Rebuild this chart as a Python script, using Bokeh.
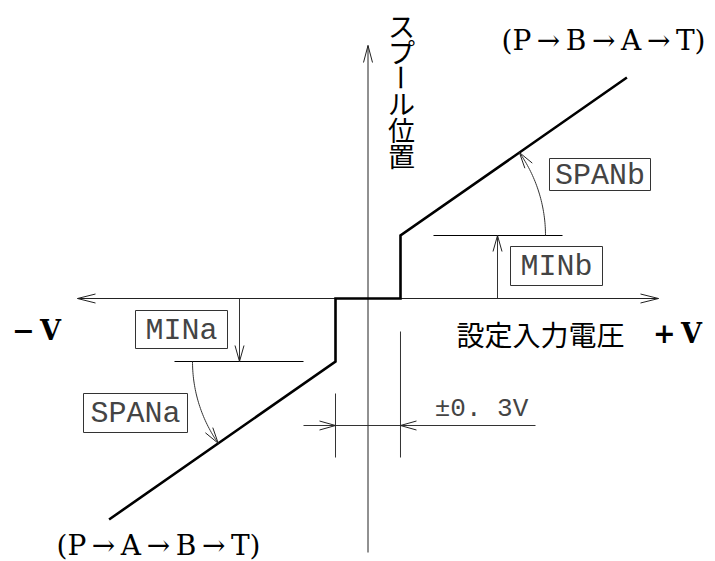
import math
from bokeh.plotting import figure
from bokeh.models import Range1d
from bokeh.embed import file_html
from bokeh.resources import INLINE
from bokeh.core.properties import value

# ---------------- data (diagram values) ----------------
dead_band_v = 0.3          # ±0.3 V dead band
v_end = 2.39               # input voltage at end of drawn characteristic
min_a = -28.5              # MINa  (% of spool stroke)
min_b = 28.5               # MINb
pos_end = 100.0            # full stroke (%)

curve_v = [-v_end, -dead_band_v, -dead_band_v, dead_band_v, dead_band_v, v_end]
curve_pos = [-pos_end, min_a, 0.0, 0.0, min_b, pos_end]

box_labels = ["MINa", "SPANa", "MINb", "SPANb"]
y_axis_label = "スプール位置"
x_axis_label = "設定入力電圧"
dir_labels = ["(P\u2009→\u2009B\u2009→\u2009A\u2009→\u2009T)", "(P\u2009→\u2009A\u2009→\u2009B\u2009→\u2009T)"]
sign_labels = ["−\u2009V", "+\u2009V"]
band_label = "±0. 3V"

# ---------------- layout ----------------
W, H = 715, 561
OX, OY = 367.5, 298.0      # origin in picture pixels
SX, SY = 108.33, 2.21      # px per V, px per %


def X(px):
    return (px - OX) / SX


def Y(py):
    return (OY - py) / SY


def PX(v):
    return OX + v * SX


def PY(p_):
    return OY - p_ * SY


p = figure(width=W, height=H,
           x_range=Range1d(X(0), X(W)), y_range=Range1d(Y(H), Y(0)),
           output_backend="svg", toolbar_location=None, min_border=0,
           x_axis_location=None, y_axis_location=None)
p.grid.visible = False
p.outline_line_color = None
p.background_fill_color = "white"
p.border_fill_color = "white"

AX = "#222222"
THIN = "#333333"

heads_x, heads_y = [], []


def head(tx, ty, dx, dy, L=16.0, h=4.5):
    n = math.hypot(dx, dy)
    dx, dy = dx / n, dy / n
    bx, by = tx - dx * L, ty - dy * L
    nx, ny = -dy, dx
    heads_x.append([X(bx + nx * h), X(tx), X(bx - nx * h)])
    heads_y.append([Y(by + ny * h), Y(ty), Y(by - ny * h)])


# axes
x_ax = (X(77), X(658))
y_ax = (Y(552), Y(45))
p.line(list(x_ax), [0, 0], line_color=AX, line_width=1)
p.line([0, 0], list(y_ax), line_color=AX, line_width=1)
head(PX(x_ax[0]), OY, -1, 0, L=18)
head(PX(x_ax[1]), OY, 1, 0, L=18)
head(OX, PY(y_ax[1]), 0, -1, L=17)

# characteristic
p.line(curve_v, curve_pos, line_color="black", line_width=2.6, line_join="miter")

# MINb
p.line([X(433), X(562)], [min_b, min_b], line_color="black", line_width=1.2)
p.line([X(497), X(497)], [0, min_b], line_color=THIN, line_width=1)
head(497, PY(min_b), 0, -1)
# MINa
p.line([X(174), X(303)], [min_a, min_a], line_color="black", line_width=1.2)
p.line([X(239), X(239)], [0, min_a], line_color=THIN, line_width=1)
head(239, PY(min_a), 0, 1)

# SPAN arcs (centred on the knees)
phi = math.atan2(PY(min_b) - PY(pos_end), PX(v_end) - PX(dead_band_v))


def arc(cx, cy, r, t0, t1, n=40):
    xs, ys = [], []
    for i in range(n + 1):
        t = t0 + (t1 - t0) * i / n
        xs.append(X(cx + r * math.cos(t)))
        ys.append(Y(cy - r * math.sin(t)))
    return xs, ys


cbx, cby = PX(dead_band_v), PY(min_b)
xs, ys = arc(cbx, cby, 145, 0, phi)
p.line(xs, ys, line_color=THIN, line_width=1)
tx, ty = cbx + 145 * math.cos(phi), cby - 145 * math.sin(phi)
head(tx, ty, -math.sin(phi), -math.cos(phi))

cax, cay = PX(-dead_band_v), PY(min_a)
xs, ys = arc(cax, cay, 143, math.pi, math.pi + phi)
p.line(xs, ys, line_color=THIN, line_width=1)
t = math.pi + phi
tx, ty = cax + 143 * math.cos(t), cay - 143 * math.sin(t)
head(tx, ty, -math.sin(t), -math.cos(t))

# ±0.3V dimension
p.line([-dead_band_v, -dead_band_v], [Y(393), Y(457)], line_color=THIN, line_width=1)
p.line([dead_band_v, dead_band_v], [Y(331), Y(457)], line_color=THIN, line_width=1)
p.line([X(303), X(535)], [Y(425), Y(425)], line_color=THIN, line_width=1)
head(PX(-dead_band_v), 425, 1, 0)
head(PX(dead_band_v), 425, -1, 0)

p.multi_line(heads_x, heads_y, line_color=AX, line_width=1)

# label boxes
boxes = [(135, 227, 310, 348), (83, 187, 393, 432), (510, 602, 246, 285), (549, 650, 158, 190)]
p.quad(left=[X(b[0]) for b in boxes], right=[X(b[1]) for b in boxes],
       top=[Y(b[2]) for b in boxes], bottom=[Y(b[3]) for b in boxes],
       fill_color=None, line_color=THIN, line_width=1)
p.text(x=[X((b[0] + b[1]) / 2) for b in boxes], y=[Y((b[2] + b[3]) / 2 + 1) for b in boxes],
       text=box_labels, text_font=value("Liberation Mono"), text_font_size="30px",
       text_color="#444444", text_align="center", text_baseline="middle")

# ±0.3V label
p.text(x=[X(481)], y=[Y(408)], text=[band_label], text_font=value("Liberation Mono"),
       text_font_size="26px", text_color="#444444", text_align="center", text_baseline="middle")

# vertical Japanese label
chars = list(y_axis_label)
p.text(x=[X(401)] * len(chars), y=[Y(25 + 26 * i) for i in range(len(chars))], text=chars,
       angle=[(-math.pi / 2 if c == "ー" else 0.0) for c in chars],
       text_font=value("Noto Sans CJK JP"), text_font_size="27px",
       text_color="black", text_align="center", text_baseline="middle")

# horizontal Japanese label
p.text(x=[X(540)], y=[Y(333)], text=[x_axis_label], text_font=value("Noto Sans CJK JP"),
       text_font_size="28px", text_color="black",
       text_align="center", text_baseline="middle")

# direction labels
p.text(x=[X(603), X(158)], y=[Y(40), Y(545)], text=dir_labels, text_font=value("DejaVu Serif"),
       text_font_size="28px", text_color="black", text_align="center", text_baseline="middle")

# sign labels
p.text(x=[X(36), X(677)], y=[Y(330), Y(333)], text=sign_labels, text_font=value("DejaVu Serif"),
       text_font_size="27px", text_font_style="bold", text_color="black",
       text_align="center", text_baseline="middle")

open("out.html", "w").write(file_html(p, INLINE))
